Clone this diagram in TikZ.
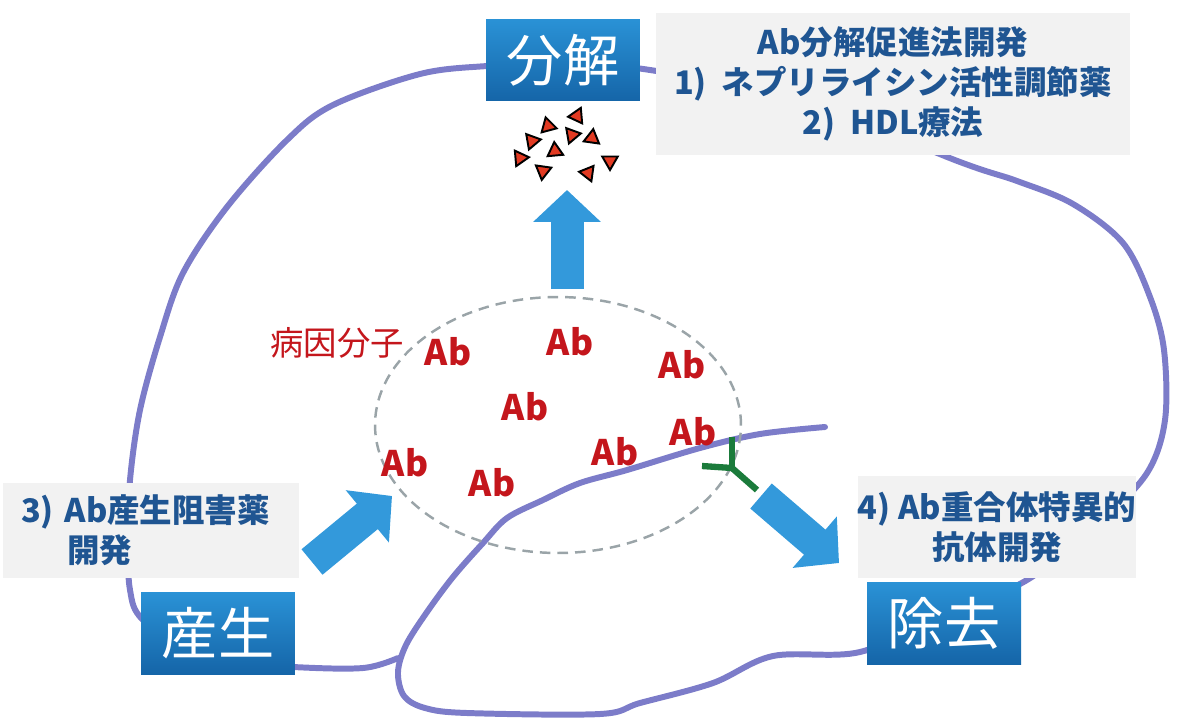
\documentclass[tikz,border=0pt]{standalone}
\usepackage{fontspec}
\setmainfont{Noto Sans CJK JP}
\usetikzlibrary{positioning, arrows.meta, shapes.geometric}
\definecolor{loopviolet}{HTML}{7C7CC9}
\definecolor{stagetop}{HTML}{2A92D6}
\definecolor{stagebot}{HTML}{1565A8}
\definecolor{flowblue}{HTML}{3399DB}
\definecolor{notegray}{HTML}{F2F2F2}
\definecolor{noteink}{HTML}{1F5592}
\definecolor{abred}{HTML}{C4161C}
\definecolor{fragred}{HTML}{E23A22}
\definecolor{poolgray}{HTML}{9AA4A8}
\definecolor{mabgreen}{HTML}{1B7B3B}
\tikzset{
  stage/.style    = {rectangle, top color=stagetop, bottom color=stagebot, text=white,
                     minimum width=3.08cm, minimum height=1.64cm, inner sep=0pt,
                     font=\fontsize{32}{33}\selectfont},
  note/.style     = {rectangle, fill=notegray, text=noteink, inner sep=0pt,
                     font=\fontsize{18.5}{23}\selectfont\bfseries},
  ab/.style       = {text=abred, inner sep=1pt, font=\fontsize{20}{20}\selectfont\bfseries},
  frag/.style     = {regular polygon, regular polygon sides=3, draw=black, fill=fragred,
                     line width=1.1pt, minimum size=0.36cm, inner sep=0pt},
  fat/.style      = {draw=flowblue, line width=0.66cm, -{Triangle[length=0.64cm, width=1.32cm]}},
  loopline/.style = {draw=loopviolet, line width=3.4pt, line cap=round, line join=round},
  pool/.style     = {ellipse, draw=poolgray, line width=1.4pt, dash pattern=on 6pt off 4pt,
                     minimum width=7.32cm, minimum height=5.12cm},
  mab/.style      = {draw=mabgreen, line width=3.6pt},
}

\begin{document}
\begin{tikzpicture}[x=0.02cm, y=-0.02cm]
\useasboundingbox (0,0) rectangle (1182,720);

% cycle line: behind every box
\draw [loopline] plot[smooth, tension=0.55] coordinates {
  (825,427) (760,434) (700,448) (627,470) (580,483) (543,500) (507,518) (483,543)
  (453,577) (427,612) (406,645) (398,672) (404,696) (425,708) (467,713) (600,714)
  (640,703) (713,683) (773,656) (860,652) (945,615) (1027,580) (1100,522) (1147,473)
  (1165,420) (1164,350) (1150,297) (1123,243) (1073,204) (1017,181) (960,162)
  (800,100) (650,70) (560,63) (487,66) (420,74) (333,105) (287,140) (227,207)
  (183,273) (160,337) (140,410) (130,480) (128,540) (130,590) (143,620) (200,660)
  (293,667) (363,668) (398,658)};

% notes on drug development
\node (noteTop) [note, minimum width=9.5cm, minimum height=2.86cm, align=center]
  at (893,84) {Ab分解促進法開発\\1)\ \ ネプリライシン活性調節薬\\2)\ \ HDL療法};
\node (noteLeft) [note, minimum width=5.94cm, minimum height=1.9cm, align=left, text width=5.2cm]
  at (151,530) {3) Ab産生阻害薬\\\hspace*{0.92cm}開発};
\node (noteRight) [note, minimum width=5.5cm, minimum height=2.04cm, align=center]
  at (997,527) {4) Ab重合体特異的\\抗体開発};

% the three stages
\node (bunkai) [stage] at (563,60)  {分解};
\node (sansei) [stage] at (218,633) {産生};
\node (jokyo)  [stage] at (944,623) {除去};

% pool of pathogenic molecules
\node (pool) [pool] at (558,425) {};
\node (byoin) [ab, font=\fontsize{19}{19}\selectfont] at (337,343) {病因分子};
\foreach \x/\y [count=\i] in {448/352, 570/342, 682/365, 525/407, 405/463, 492/483, 615/452, 693/432}
  \node (ab\i) [ab] at (\x,\y) {Ab};

% degraded fragments
\foreach \x/\y/\r [count=\i] in {577/116/-25, 548/126/15, 532/141/-80, 572/135/40, 592/138/-8,
                                 555/151/5, 520/158/-85, 610/161/-60, 543/171/52, 588/173/-38}
  \node (frag\i) [frag, rotate=\r] at (\x,\y) {};

% flows into and out of the pool
\coordinate (upTail)    at (567,289);
\coordinate (upTip)     at (567,190);
\coordinate (inTail)    at (312,562);
\coordinate (inTip)     at (392,496);
\coordinate (outTail)   at (761,496);
\coordinate (outTip)    at (839,563);
\draw [fat] (upTail) -- (upTip);
\draw [fat] (inTail) -- (inTip);
\draw [fat] (outTail) -- (outTip);

% antibody bound at the rim
\coordinate (mab) at (732,468);
\draw [mab] (mab) -- ++(0,-31);
\draw [mab] (mab) -- ++(-30,-2);
\draw [mab] (mab) -- ++(25,22);

\end{tikzpicture}
\end{document}
